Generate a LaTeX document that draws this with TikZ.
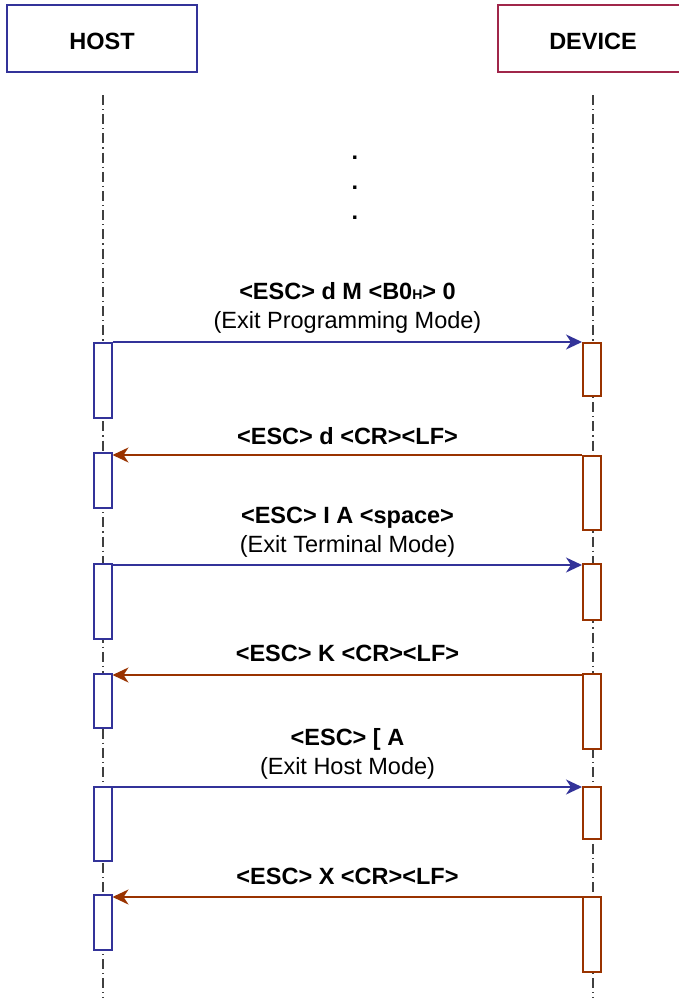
\documentclass[tikz,border=0pt]{standalone}
\usepackage{fontspec}
\setmainfont{Liberation Sans}
\usetikzlibrary{arrows.meta}
\definecolor{hostblue}{HTML}{333399}
\definecolor{devred}{HTML}{A0264A}
\definecolor{devbrown}{HTML}{993300}
\tikzset{
  header/.style={draw, line width=1.5pt, fill=white, minimum width=190pt, minimum height=67pt, inner sep=0pt, text height=22pt, text depth=0pt, font=\fontsize{23.5}{28}\selectfont\bfseries},
  life/.style={draw=black!75, line width=1.1pt, dash pattern=on 10pt off 4pt on 1.2pt off 4pt},
  hact/.style={draw=hostblue, line width=2pt, fill=white, minimum width=18pt, inner sep=0pt, anchor=north},
  dact/.style={draw=devbrown, line width=2pt, fill=white, minimum width=18pt, inner sep=0pt, anchor=north},
  hmsg/.style={draw=hostblue, line width=2pt, -{Stealth[length=16pt,width=15pt,inset=5pt]}},
  dmsg/.style={draw=devbrown, line width=2pt, -{Stealth[length=16pt,width=15pt,inset=5pt]}},
  lbl/.style={align=center, inner sep=0pt, font=\fontsize{23.5}{29}\selectfont},
}
\begin{document}
\begin{tikzpicture}[x=1pt, y=-1pt]
\useasboundingbox (0,0) rectangle (679,998);
\clip (0,0) rectangle (679,998);
% headers
\node[header, draw=hostblue] (host) at (102,38.5) {HOST};
\node[header, draw=devred] (dev) at (593,38.5) {DEVICE};
% lifelines
\coordinate (hl0) at (103,95);
\coordinate (hl1) at (103,998);
\coordinate (dl0) at (593,95);
\coordinate (dl1) at (593,998);
\draw[life] (hl0) -- (hl1);
\draw[life] (dl0) -- (dl1);
% ellipsis
\node[lbl, font=\fontsize{23.5}{30}\selectfont\bfseries] (dots) at (355,188) {.\\.\\.};
% host activations
\node[hact, minimum height=75pt] (h1) at (102.5,342) {};
\node[hact, minimum height=55pt] (h2) at (102.5,452) {};
\node[hact, minimum height=75pt] (h3) at (102.5,563) {};
\node[hact, minimum height=54pt] (h4) at (102.5,673) {};
\node[hact, minimum height=74pt] (h5) at (102.5,786) {};
\node[hact, minimum height=55pt] (h6) at (102.5,894) {};
% device activations
\node[dact, minimum height=53pt] (d1) at (592,342) {};
\node[dact, minimum height=74pt] (d2) at (592,455) {};
\node[dact, minimum height=56pt] (d3) at (592,563) {};
\node[dact, minimum height=75pt] (d4) at (592,673) {};
\node[dact, minimum height=52pt] (d5) at (592,786) {};
\node[dact, minimum height=75pt] (d6) at (592,896) {};
% messages
\draw[hmsg] (h1.north east) -- (d1.north west);
\draw[dmsg] (d2.north west) -- (d2.north west -| h2.east);
\draw[hmsg] ([yshift=-2pt]h3.north east) -- ([yshift=-2pt]h3.north east -| d3.west);
\draw[dmsg] ([yshift=-2pt]d4.north west) -- ([yshift=-2pt]d4.north west -| h4.east);
\draw[hmsg] ([yshift=-1pt]h5.north east) -- ([yshift=-1pt]h5.north east -| d5.west);
\draw[dmsg] ([yshift=-1pt]d6.north west) -- ([yshift=-1pt]d6.north west -| h6.east);
% labels
\node[lbl] (m1) at (347.5,307.5) {\textbf{<ESC> d M <B0{\fontsize{14}{14}\selectfont H}> 0}\\(Exit Programming Mode)};
\node[lbl] (m2) at (347.5,436) {\textbf{<ESC> d <CR><LF>}};
\node[lbl] (m3) at (347.5,532) {\textbf{<ESC> I A <space>}\\(Exit Terminal Mode)};
\node[lbl] (m4) at (347.5,653) {\textbf{<ESC> K <CR><LF>}};
\node[lbl] (m5) at (347.5,753.5) {\textbf{<ESC> [ A}\\(Exit Host Mode)};
\node[lbl] (m6) at (347.5,876) {\textbf{<ESC> X <CR><LF>}};
\end{tikzpicture}
\end{document}
